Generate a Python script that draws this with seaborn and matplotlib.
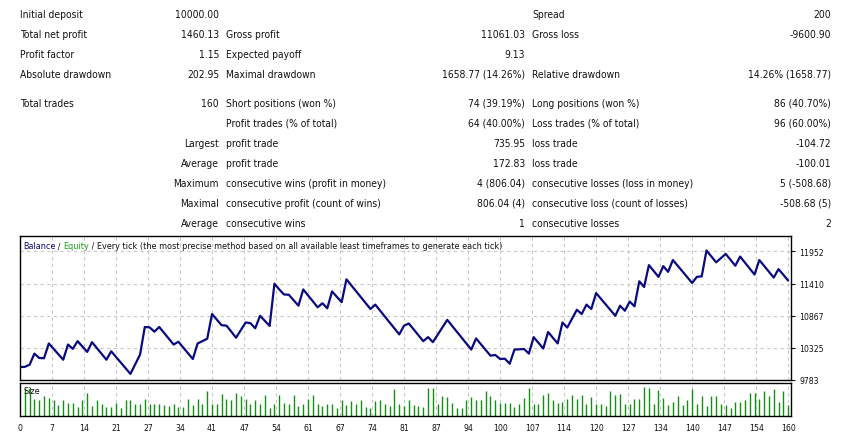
import matplotlib
matplotlib.use("Agg")
import numpy as np
import pandas as pd
import matplotlib.pyplot as plt
import seaborn as sns

# Report table (one list per column)
col_a = ["Initial deposit", "Total net profit", "Profit factor", "Absolute drawdown",
         "Total trades", "", "", "", "", "", ""]
col_b = ["10000.00", "1460.13", "1.15", "202.95", "160", "",
         "Largest", "Average", "Maximum", "Maximal", "Average"]
col_c = ["", "Gross profit", "Expected payoff", "Maximal drawdown",
         "Short positions (won %)", "Profit trades (% of total)", "profit trade", "profit trade",
         "consecutive wins (profit in money)", "consecutive profit (count of wins)", "consecutive wins"]
col_d = ["", "11061.03", "9.13", "1658.77 (14.26%)", "74 (39.19%)", "64 (40.00%)",
         "735.95", "172.83", "4 (806.04)", "806.04 (4)", "1"]
col_e = ["Spread", "Gross loss", "", "Relative drawdown", "Long positions (won %)",
         "Loss trades (% of total)", "loss trade", "loss trade",
         "consecutive losses (loss in money)", "consecutive loss (count of losses)", "consecutive losses"]
col_f = ["200", "-9600.90", "", "14.26% (1658.77)", "86 (40.70%)", "96 (60.00%)",
         "-104.72", "-100.01", "5 (-508.68)", "-508.68 (5)", "2"]

# Balance after each trade (trade 0 = initial deposit)
balance = [
    10000, 10005, 10040, 10228, 10154, 10150, 10399, 10308, 10217, 10125,
    10381, 10308, 10438, 10347, 10257, 10421, 10322, 10224, 10125, 10267,
    10172, 10077, 9982, 9886, 10048, 10210, 10677, 10670, 10598, 10677,
    10578, 10480, 10381, 10428, 10331, 10234, 10137, 10399, 10440, 10479,
    10895, 10800, 10706, 10700, 10600, 10496, 10625, 10753, 10741, 10655,
    10866, 10780, 10695, 11407, 11310, 11225, 11220, 11128, 11036, 11310,
    11210, 11110, 11009, 11077, 10992, 11276, 11185, 11095, 11481, 11381,
    11281, 11181, 11080, 10980, 11054, 10954, 10854, 10754, 10653, 10552,
    10700, 10735, 10636, 10537, 10438, 10506, 10421, 10546, 10672, 10797,
    10697, 10597, 10497, 10396, 10296, 10484, 10387, 10290, 10193, 10205,
    10137, 10142, 10057, 10296, 10300, 10305, 10228, 10506, 10410, 10313,
    10592, 10495, 10399, 10753, 10667, 10818, 10968, 10895, 11054, 10980,
    11249, 11153, 11057, 10961, 10866, 11036, 10951, 11105, 11026, 11447,
    11351, 11720, 11621, 11522, 11703, 11607, 11806, 11709, 11612, 11516,
    11419, 11522, 11530, 11967, 11867, 11767, 11838, 11909, 11810, 11710,
    11864, 11763, 11662, 11561, 11806, 11707, 11609, 11510, 11652, 11558,
    11460,
]

# Lot size of trades 1..160
sizes = [
    0.29, 0.30, 0.18, 0.16, 0.21, 0.19, 0.16, 0.11, 0.16, 0.13,
    0.13, 0.09, 0.16, 0.24, 0.10, 0.16, 0.12, 0.09, 0.09, 0.13,
    0.08, 0.16, 0.16, 0.12, 0.12, 0.18, 0.12, 0.12, 0.12, 0.11,
    0.10, 0.12, 0.09, 0.09, 0.17, 0.11, 0.17, 0.12, 0.26, 0.12,
    0.12, 0.23, 0.18, 0.16, 0.24, 0.21, 0.17, 0.12, 0.16, 0.12,
    0.22, 0.08, 0.12, 0.22, 0.13, 0.12, 0.22, 0.10, 0.12, 0.17,
    0.22, 0.12, 0.10, 0.12, 0.12, 0.08, 0.16, 0.11, 0.15, 0.12,
    0.16, 0.09, 0.08, 0.15, 0.16, 0.12, 0.10, 0.28, 0.12, 0.10,
    0.16, 0.11, 0.10, 0.09, 0.29, 0.29, 0.12, 0.21, 0.20, 0.13,
    0.08, 0.08, 0.16, 0.20, 0.16, 0.16, 0.26, 0.21, 0.16, 0.13,
    0.13, 0.13, 0.09, 0.12, 0.19, 0.29, 0.12, 0.12, 0.22, 0.24,
    0.16, 0.13, 0.14, 0.18, 0.22, 0.18, 0.22, 0.12, 0.20, 0.12,
    0.12, 0.10, 0.26, 0.22, 0.23, 0.12, 0.12, 0.18, 0.18, 0.30,
    0.29, 0.12, 0.27, 0.19, 0.11, 0.14, 0.21, 0.11, 0.16, 0.28,
    0.12, 0.21, 0.10, 0.21, 0.21, 0.12, 0.11, 0.08, 0.14, 0.14,
    0.16, 0.24, 0.24, 0.17, 0.26, 0.21, 0.28, 0.14, 0.26, 0.11,
]

xtick_labels = ["0", "7", "14", "21", "27", "34", "41", "47", "54", "61", "67", "74", "81",
                "87", "94", "100", "107", "114", "120", "127", "134", "140", "147", "154", "160"]
ytick_values = [9783, 10325, 10867, 11410, 11952]

df = pd.DataFrame({"trade": np.arange(len(balance)), "balance": balance})
size_df = pd.DataFrame({"trade": np.arange(1, len(sizes) + 1), "lots": sizes})

sns.set_style("white")
plt.rcParams["font.family"] = ["DejaVu Sans"]
plt.rcParams["font.stretch"] = "condensed"
plt.rcParams["text.color"] = "#111111"
plt.rcParams["xtick.color"] = "#111111"
plt.rcParams["ytick.color"] = "#111111"
FS = 7.35      # table
FS_HEAD = 6.5  # chart header
FS_TICK = 6.2
W, H = 848, 439

fig = plt.figure(figsize=(W / 100, H / 100), dpi=100)


def fx(x):
    return x / W


def fy(y):
    return 1 - y / H


# table text
row_y = [15, 35, 55, 75, 104, 124, 144, 164, 184, 204, 224]
for i, y in enumerate(row_y):
    fig.text(fx(20), fy(y), col_a[i], ha="left", va="center", fontsize=FS)
    fig.text(fx(219), fy(y), col_b[i], ha="right", va="center", fontsize=FS)
    fig.text(fx(226), fy(y), col_c[i], ha="left", va="center", fontsize=FS)
    fig.text(fx(525), fy(y), col_d[i], ha="right", va="center", fontsize=FS)
    fig.text(fx(532), fy(y), col_e[i], ha="left", va="center", fontsize=FS)
    fig.text(fx(831), fy(y), col_f[i], ha="right", va="center", fontsize=FS)

x_max = len(balance) - 1
xtick_pos = np.linspace(0, x_max, len(xtick_labels))
xlim = (0, x_max + 0.6)
grid_kw = dict(color="#c8c8c8", linestyle=(0, (3, 3)), linewidth=0.8)

# balance panel
ax = fig.add_axes([fx(20), fy(381), fx(771), 144 / H])
sns.lineplot(data=df, x="trade", y="balance", ax=ax, color="#0a0a80", linewidth=1.6)
ax.set_xlim(*xlim)
ax.set_ylim(9783, 12211)
ax.set_xticks(xtick_pos)
ax.set_yticks(ytick_values)
ax.set_yticklabels([str(v) for v in ytick_values])
ax.yaxis.tick_right()
ax.tick_params(axis="x", length=0, labelbottom=False)
ax.tick_params(axis="y", length=3, width=0.8, pad=3, labelsize=FS_TICK)
ax.grid(True, **grid_kw)
ax.set_xlabel("")
ax.set_ylabel("")
for s in ax.spines.values():
    s.set_color("black")
    s.set_linewidth(1.0)

t1 = fig.text(fx(23), fy(247), "Balance", color="#0a0a80", fontsize=FS_HEAD, va="center")
t2 = ax.annotate(" / ", xy=(1, 0), xycoords=t1, va="bottom", fontsize=FS_HEAD)
t3 = ax.annotate("Equity", xy=(1, 0), xycoords=t2, va="bottom", fontsize=FS_HEAD, color="#1aa01a")
ax.annotate(" / Every tick (the most precise method based on all available least timeframes to generate each tick)",
            xy=(1, 0), xycoords=t3, va="bottom", fontsize=FS_HEAD)

# size panel
ax2 = fig.add_axes([fx(20), fy(417), fx(771), 33.5 / H])
ax2.vlines(size_df["trade"], 0, size_df["lots"], color="#109010", linewidth=1.0)
ax2.set_xlim(*xlim)
ax2.set_ylim(0, 0.345)
ax2.set_yticks([])
ax2.set_xticks(xtick_pos)
ax2.set_xticklabels(xtick_labels)
ax2.tick_params(axis="x", length=3, width=0.8, pad=2, labelsize=FS_TICK)
ax2.grid(True, axis="x", **grid_kw)
for s in ax2.spines.values():
    s.set_color("black")
    s.set_linewidth(1.0)
fig.text(fx(23), fy(392), "Size", fontsize=FS_HEAD, va="center")

fig.savefig("out.png", dpi=100, facecolor="white")
